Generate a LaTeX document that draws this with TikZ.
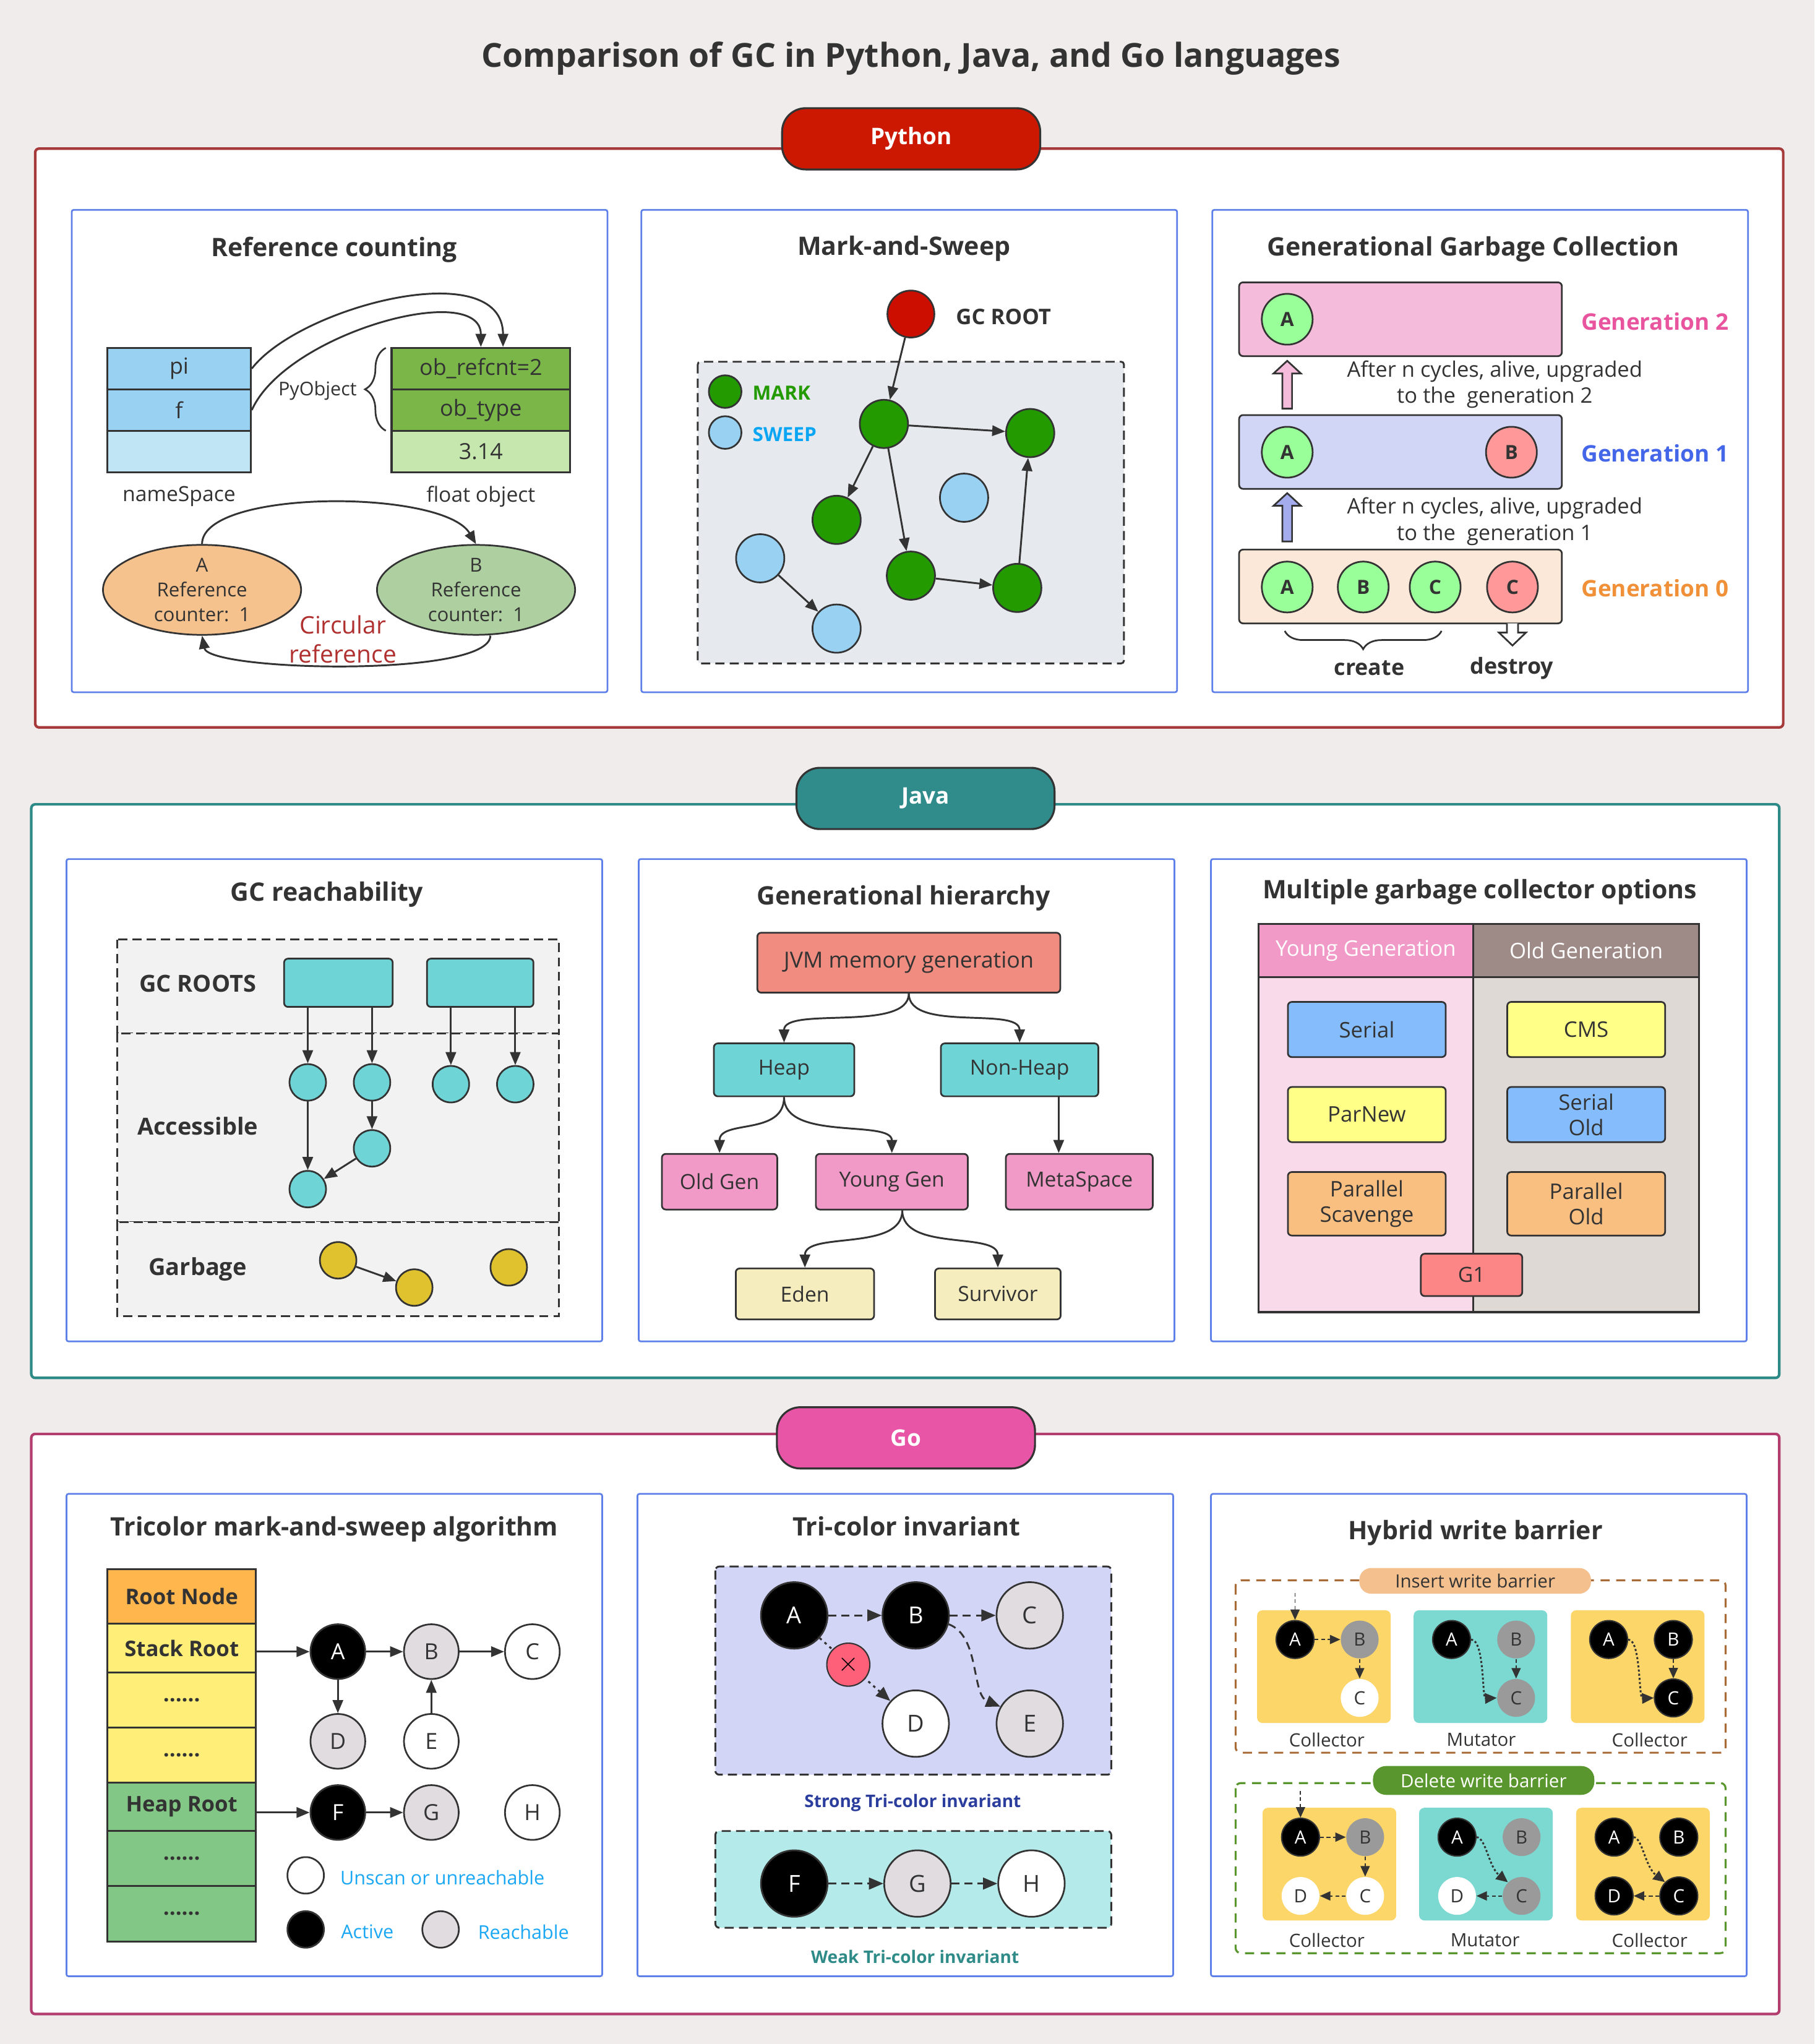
\documentclass[tikz,border=0pt]{standalone}
\usepackage{fontspec}
\setmainfont{Open Sans}
\usetikzlibrary{arrows.meta,positioning,shapes.geometric,decorations.pathreplacing}

\definecolor{pagebg}{HTML}{EFECEB}
\definecolor{ink}{HTML}{333333}
\definecolor{panelblue}{HTML}{5F80E8}
\definecolor{pyred}{HTML}{A63A3A}
\definecolor{pyban}{HTML}{CC1800}
\definecolor{javteal}{HTML}{2E8A87}
\definecolor{javban}{HTML}{2F8C8B}
\definecolor{gomag}{HTML}{B23D6E}
\definecolor{goban}{HTML}{E955A6}
\definecolor{nsblue}{HTML}{99D1F3}
\definecolor{nslight}{HTML}{C0E5F5}
\definecolor{objgreen}{HTML}{7AB648}
\definecolor{objlight}{HTML}{C6E8AE}
\definecolor{ellorange}{HTML}{F5C18C}
\definecolor{ellgreen}{HTML}{AED0A0}
\definecolor{circred}{HTML}{B03030}
\definecolor{msbg}{HTML}{E6EAEE}
\definecolor{rootred}{HTML}{CC0E00}
\definecolor{markgreen}{HTML}{229A00}
\definecolor{sweepblue}{HTML}{99D1F2}
\definecolor{sweeptxt}{HTML}{0AA6F4}
\definecolor{gentwo}{HTML}{F4BCDA}
\definecolor{genone}{HTML}{D1D5F6}
\definecolor{genzero}{HTML}{FBE8D8}
\definecolor{ballgreen}{HTML}{99FF99}
\definecolor{ballred}{HTML}{FF9999}
\definecolor{gentwotxt}{HTML}{E8559E}
\definecolor{genonetxt}{HTML}{4466E8}
\definecolor{genzerotxt}{HTML}{F0913A}
\definecolor{uparrowblue}{HTML}{A4ACEE}
\definecolor{reachbg}{HTML}{F2F2F2}
\definecolor{cyanfill}{HTML}{6FD4D6}
\definecolor{garbyellow}{HTML}{DFC22E}
\definecolor{jvmred}{HTML}{F08C80}
\definecolor{pinkbox}{HTML}{F19AC7}
\definecolor{paleyellow}{HTML}{F5EDBE}
\definecolor{oldhead}{HTML}{9E8B87}
\definecolor{youngbody}{HTML}{F9DAEA}
\definecolor{oldbody}{HTML}{DFD9D6}
\definecolor{boxblue}{HTML}{85BCFB}
\definecolor{boxyellow}{HTML}{FFFF88}
\definecolor{boxorange}{HTML}{F9BF81}
\definecolor{gonered}{HTML}{FC8585}
\definecolor{rootorange}{HTML}{FFB74D}
\definecolor{stackyellow}{HTML}{FFEF78}
\definecolor{heapgreen}{HTML}{82C785}
\definecolor{greyball}{HTML}{E0DCDF}
\definecolor{legendblue}{HTML}{1AA7F3}
\definecolor{strongbg}{HTML}{D3D5F7}
\definecolor{weakbg}{HTML}{B5EAEA}
\definecolor{xred}{HTML}{FF6079}
\definecolor{strongtxt}{HTML}{2B3E9E}
\definecolor{weaktxt}{HTML}{2E8B87}
\definecolor{insbrown}{HTML}{A86B36}
\definecolor{inspill}{HTML}{F4C08E}
\definecolor{delgreen}{HTML}{5A962E}
\definecolor{hwyellow}{HTML}{FCD669}
\definecolor{hwteal}{HTML}{7BD9D1}
\definecolor{greyfill}{HTML}{9A9A9A}

\newcommand{\rowdots}{......}

\tikzset{every picture/.style={line width=0.75pt}}
\tikzset{
  secframe/.style={line width=2pt, fill=white, rounded corners=3pt},
  banner/.style={draw=ink, line width=1.5pt, rounded corners=18pt, minimum width=198pt, minimum height=47pt, inner sep=0pt, text=white, font=\bfseries\fontsize{17.5}{20}\selectfont},
  panel/.style={draw=panelblue, line width=1.3pt, fill=white, rounded corners=1.5pt},
  ptitle/.style={text=ink, inner sep=0pt, font=\bfseries\fontsize{19.5}{22}\selectfont},
  txt/.style={text=ink, inner sep=0pt, align=center, font=\fontsize{16}{19}\selectfont},
  btxt/.style={text=ink, inner sep=0pt, align=center, font=\bfseries\fontsize{17.5}{20}\selectfont},
  small/.style={text=ink, inner sep=0pt, align=center, font=\fontsize{14}{17}\selectfont},
  ball/.style={circle, draw=ink, line width=1.3pt, inner sep=0pt, minimum size=#1},
  cell/.style={rectangle, draw=ink, line width=1.5pt, minimum width=#1, minimum height=31.8pt, txt, font=\fontsize{17}{19}\selectfont},
  roundbox/.style={rectangle, draw=ink, line width=1.3pt, rounded corners=3pt, txt},
  dashbox/.style={draw=ink, line width=1.4pt, dash pattern=on 7pt off 4pt},
  arr/.style={draw=ink, line width=1.4pt, -{Triangle[length=10pt,width=8pt]}},
  dasharr/.style={draw=ink, line width=1.4pt, dash pattern=on 6pt off 4pt, -{Triangle[length=11pt,width=9pt]}},
  dotarr/.style={draw=ink, line width=1.5pt, dash pattern=on 2pt off 3pt, -{Triangle[length=11pt,width=9pt]}},
  hwdash/.style={draw=ink, line width=0.9pt, dash pattern=on 3pt off 2pt, -{Triangle[length=8pt,width=7pt]}},
  hwdot/.style={draw=ink, line width=1.4pt, dash pattern=on 1.6pt off 1.6pt, -{Triangle[length=9pt,width=8pt]}},
  hwnode/.style={circle, inner sep=0pt, minimum size=29pt, font=\fontsize{14}{16}\selectfont},
  hwblack/.style={hwnode, fill=black, draw=ink, line width=1pt, text=white},
  hwgrey/.style={hwnode, fill=greyfill, text=ink},
  hwwhite/.style={hwnode, fill=white, text=ink},
  tri/.style={ball=42pt, text=ink, font=\fontsize{17}{20}\selectfont},
  inv/.style={ball=51pt, text=ink, font=\fontsize{18}{20}\selectfont},
}

\begin{document}
\begin{tikzpicture}[x=1pt,y=1pt,yscale=-1]
	\useasboundingbox (0,0) rectangle (1392,1568);
	\fill[pagebg] (0,0) rectangle (1392,1568);
	
	% Text Node
	\node[text=ink, inner sep=0pt, font=\bfseries\fontsize{25.4}{30}\selectfont] (maintitle) at (699,45) {Comparison of GC in Python, Java, and Go languages};
	
	%Shape: Section frames and banners
	\draw[secframe, draw=pyred] (27,114) rectangle (1368,558);
	\node[banner, fill=pyban] (python) at (699,106.5) {Python};
	\draw[secframe, draw=javteal] (24,617) rectangle (1365,1057);
	\node[banner, fill=javban] (java) at (710,612.5) {Java};
	\draw[secframe, draw=gomag] (24,1100) rectangle (1365,1545);
	\node[banner, fill=goban] (golang) at (695,1103) {Go};
	
	%Shape: Panels
	\foreach \x/\y in {55/161, 492/161, 930/161, 51/659, 490/659, 929/659, 51/1146, 489/1146, 929/1146}
		\draw[panel] (\x,\y) rectangle ++(411,370);
	
	%%%%% Python: reference counting
	\node[ptitle] (rctitle) at (256.4,191.5) {Reference counting};
	\node[cell=110pt, fill=nsblue] (pi) at (137.4,282.8) {pi};
	\node[cell=110pt, fill=nsblue] (fvar) at (137.4,314.6) {f};
	\node[cell=110pt, fill=nslight] (nsempty) at (137.4,346.4) {};
	\node[txt] (nslabel) at (137.4,381) {nameSpace};
	\node[cell=137pt, fill=objgreen] (refcnt) at (368.9,282.8) {ob\_refcnt=2};
	\node[cell=137pt, fill=objgreen] (obtype) at (368.9,314.6) {ob\_type};
	\node[cell=137pt, fill=objlight] (fval) at (368.9,346.4) {3.14};
	\node[txt] (floatlabel) at (368.9,381) {float object};
	%Brace
	\draw[ink, line width=1.3pt, decorate, decoration={brace, amplitude=16pt}] (296,330.4) -- (296,266.9);
	\node[small, anchor=east, font=\fontsize{14.5}{17}\selectfont] (pyobj) at (274,299.5) {PyObject};
	%Curve Lines
	\draw[arr] (pi.east) .. controls (230,235) and (385.9,195) .. ([xshift=17pt]refcnt.north);
	\draw[arr] (fvar.east) .. controls (220,255) and (368.9,215) .. (refcnt.north);
	\node[ellipse, draw=ink, line width=1.3pt, fill=ellorange, minimum width=152pt, minimum height=66pt, txt, font=\fontsize{14.8}{19}\selectfont] (objA) at (155,452.5) {A\\Reference\\counter:\ \ 1};
	\node[ellipse, draw=ink, line width=1.3pt, fill=ellgreen, minimum width=152pt, minimum height=66pt, txt, font=\fontsize{14.8}{19}\selectfont] (objB) at (365.2,452.5) {B\\Reference\\counter:\ \ 1};
	\draw[arr] (objA.north) .. controls (155,375) and (340,375) .. (objB.north);
	\draw[arr] ([xshift=11pt]objB.south) .. controls (376,520) and (160,515) .. (objA.south);
	\node[text=circred, inner sep=0pt, align=center, font=\fontsize{18.5}{22.4}\selectfont] (circref) at (263,490.5) {Circular\\reference};
	
	%%%%% Python: mark and sweep
	\node[ptitle] (mstitle) at (693.5,190.5) {Mark-and-Sweep};
	\draw[dashbox, fill=msbg, rounded corners=2pt] (535.3,277.5) rectangle (862.2,508.9);
	\node[ball=36pt, fill=rootred] (gcroot) at (698.8,240.9) {};
	\node[text=ink, inner sep=0pt, anchor=west, font=\bfseries\fontsize{16.5}{20}\selectfont] (gcrootlbl) at (733,243) {GC ROOT};
	\node[ball=25pt, fill=markgreen] (markkey) at (556.3,300.4) {};
	\node[text=markgreen, inner sep=0pt, anchor=west, font=\bfseries\fontsize{15}{18}\selectfont] (marklbl) at (577,301.5) {MARK};
	\node[ball=25pt, fill=sweepblue] (sweepkey) at (556.3,331.8) {};
	\node[text=sweeptxt, inner sep=0pt, anchor=west, font=\bfseries\fontsize{15}{18}\selectfont] (sweeplbl) at (577,333.2) {SWEEP};
	\foreach \n/\x/\y in {m1/678.1/325.2, m2/790.3/332.2, m3/641.8/398.8, m4/698.8/441.6, m5/780.4/451}
		\node[ball=37pt, fill=markgreen] (\n) at (\x,\y) {};
	\foreach \n/\x/\y in {s1/739.6/381.8, s2/583.2/428.3, s3/641.8/482.2}
		\node[ball=37pt, fill=sweepblue] (\n) at (\x,\y) {};
	\foreach \a/\b in {gcroot/m1, m1/m2, m1/m3, m1/m4, m4/m5, m5/m2, s2/s3}
		\draw[arr] (\a) -- (\b);
	
	%%%%% Python: generational
	\node[ptitle] (ggtitle) at (1130.2,191) {Generational Garbage Collection};
	\node[roundbox, fill=gentwo, minimum width=247.6pt, minimum height=56.6pt] (gen2) at (1074.4,244.9) {};
	\node[roundbox, fill=genone, minimum width=247.6pt, minimum height=56.6pt] (gen1) at (1074.4,346.7) {};
	\node[roundbox, fill=genzero, minimum width=247.6pt, minimum height=56.6pt] (gen0) at (1074.4,449.9) {};
	\foreach \n/\x/\y/\c/\t in {gA2/987.5/244.9/ballgreen/A, gA1/987.5/346.9/ballgreen/A, gB1/1159.5/346.9/ballred/B, gA0/987.5/450.3/ballgreen/A, gB0/1045.8/450.3/ballgreen/B, gC0/1101/450.3/ballgreen/C, gX0/1160.3/450.3/ballred/C}
		\node[ball=39pt, fill=\c, text=ink, font=\bfseries\fontsize{15}{18}\selectfont] (\n) at (\x,\y) {\t};
	\node[text=gentwotxt, inner sep=0pt, font=\bfseries\fontsize{17.5}{20}\selectfont] (gen2lbl) at (1269.6,246.4) {Generation 2};
	\node[text=genonetxt, inner sep=0pt, font=\bfseries\fontsize{17.5}{20}\selectfont] (gen1lbl) at (1269.6,347.9) {Generation 1};
	\node[text=genzerotxt, inner sep=0pt, font=\bfseries\fontsize{17.5}{20}\selectfont] (gen0lbl) at (1269.6,451.3) {Generation 0};
	%Shape: block arrows
	\draw[ink, line width=1.3pt, fill=gentwo] (983.8,313.4) -- (983.8,286.5) -- (977,286.5) -- (987.5,276.8) -- (998,286.5) -- (991.2,286.5) -- (991.2,313.4) -- cycle;
	\draw[ink, line width=1.3pt, fill=uparrowblue] (983.8,415.4) -- (983.8,388) -- (977,388) -- (987.5,378.3) -- (998,388) -- (991.2,388) -- (991.2,415.4) -- cycle;
	\draw[ink, line width=1.3pt, fill=white] (1156,478.2) -- (1156,485.3) -- (1150,485.3) -- (1160.3,495.2) -- (1170.6,485.3) -- (1164.6,485.3) -- (1164.6,478.2);
	\node[txt, font=\fontsize{16.4}{20}\selectfont] (up2txt) at (1146.7,295) {After n cycles, alive, upgraded\\to the\ \ generation 2};
	\node[txt, font=\fontsize{16.4}{20}\selectfont] (up1txt) at (1146.7,400) {After n cycles, alive, upgraded\\to the\ \ generation 1};
	\draw[ink, line width=1.3pt, decorate, decoration={brace, mirror, amplitude=14pt}] (985.6,484) -- (1105.9,484);
	\node[text=ink, inner sep=0pt, font=\bfseries\fontsize{17}{20}\selectfont] (createlbl) at (1050.5,512.5) {create};
	\node[text=ink, inner sep=0pt, font=\bfseries\fontsize{17}{20}\selectfont] (destroylbl) at (1159.8,512.5) {destroy};
	
	%%%%% Java: reachability
	\node[ptitle] (reachtitle) at (250.8,686) {GC reachability};
	\draw[dashbox, fill=reachbg] (90,720.7) rectangle (428.9,792.6);
	\draw[dashbox, fill=reachbg] (90,792.6) rectangle (428.9,937.3);
	\draw[dashbox, fill=reachbg] (90,937.3) rectangle (428.9,1009.7);
	\node[btxt, font=\bfseries\fontsize{18}{20}\selectfont] (rootslbl) at (151.7,754.5) {GC ROOTS};
	\node[btxt, font=\bfseries\fontsize{18}{20}\selectfont] (acclbl) at (151.7,863.8) {Accessible};
	\node[btxt, font=\bfseries\fontsize{18}{20}\selectfont] (garblbl) at (151.7,973.8) {Garbage};
	\node[roundbox, fill=cyanfill, minimum width=83.3pt, minimum height=37pt] (rootA) at (259.6,753.9) {};
	\node[roundbox, fill=cyanfill, minimum width=81.7pt, minimum height=37pt] (rootB) at (368.4,753.9) {};
	\foreach \n/\x/\y in {acc1/236.1/830.3, acc2/285.4/830.3, acc3/345.9/831.7, acc4/395.3/831.7, acc5/285.4/880.9, acc6/236.1/912.2}
		\node[ball=28pt, fill=cyanfill] (\n) at (\x,\y) {};
	\foreach \n/\x/\y in {gb1/259.4/966.8, gb2/317.8/987.7, gb3/390.3/972.2}
		\node[ball=28pt, fill=garbyellow] (\n) at (\x,\y) {};
	\draw[arr] (rootA.south -| acc1) -- (acc1);
	\draw[arr] (rootA.south -| acc2) -- (acc2);
	\draw[arr] (rootB.south -| acc3) -- (acc3);
	\draw[arr] (rootB.south -| acc4) -- (acc4);
	\foreach \a/\b in {acc1/acc6, acc2/acc5, acc5/acc6, gb1/gb2}
		\draw[arr] (\a) -- (\b);
	
	%%%%% Java: generational hierarchy
	\node[ptitle] (hiertitle) at (693.4,689) {Generational hierarchy};
	\node[roundbox, fill=jvmred, minimum width=232.4pt, minimum height=46pt, font=\fontsize{17}{19}\selectfont] (jvm) at (697.2,738.5) {JVM memory generation};
	\node[roundbox, fill=cyanfill, minimum width=107.7pt, minimum height=40.6pt] (heap) at (601.5,820.7) {Heap};
	\node[roundbox, fill=cyanfill, minimum width=120.8pt, minimum height=40.6pt] (nonheap) at (782.2,820.7) {Non-Heap};
	\node[roundbox, fill=pinkbox, minimum width=88.5pt, minimum height=42.7pt] (oldgen) at (552,906.5) {Old Gen};
	\node[roundbox, fill=pinkbox, minimum width=116.6pt, minimum height=42.7pt] (younggen) at (684.2,906.5) {Young Gen};
	\node[roundbox, fill=pinkbox, minimum width=112.7pt, minimum height=42.7pt] (meta) at (828,906.5) {MetaSpace};
	\node[roundbox, fill=paleyellow, minimum width=106.1pt, minimum height=39.1pt] (eden) at (617.5,992.6) {Eden};
	\node[roundbox, fill=paleyellow, minimum width=96.4pt, minimum height=39.1pt] (survivor) at (765.5,992.6) {Survivor};
	\draw[arr] (jvm.south) .. controls +(0,30) and +(0,-28) .. (heap.north);
	\draw[arr] (jvm.south) .. controls +(0,30) and +(0,-28) .. (nonheap.north);
	\draw[arr] (heap.south) .. controls +(0,30) and +(0,-26) .. (oldgen.north);
	\draw[arr] (heap.south) .. controls +(0,34) and +(0,-26) .. (younggen.north);
	\draw[arr] ([xshift=30pt]nonheap.south) -- ([xshift=30pt]nonheap.south |- meta.north);
	\draw[arr] ([xshift=8pt]younggen.south) .. controls +(0,32) and +(0,-28) .. (eden.north);
	\draw[arr] ([xshift=8pt]younggen.south) .. controls +(0,32) and +(0,-28) .. (survivor.north);
	
	%%%%% Java: collectors
	\node[ptitle] (gcopttitle) at (1135.3,684.2) {Multiple garbage collector options};
	\draw[ink, line width=1.5pt, fill=youngbody] (965.5,749.6) rectangle (1130.1,1006.6);
	\draw[ink, line width=1.5pt, fill=oldbody] (1130.1,749.6) rectangle (1303.6,1006.6);
	\node[rectangle, draw=ink, line width=1.5pt, fill=pinkbox, minimum width=164.6pt, minimum height=40.8pt, inner sep=0pt, text=white, font=\fontsize{16.5}{19}\selectfont] (younghdr) at (1047.8,729.2) {Young Generation};
	\node[rectangle, draw=ink, line width=1.5pt, fill=oldhead, minimum width=173.5pt, minimum height=40.8pt, inner sep=0pt, text=white, font=\fontsize{16.5}{19}\selectfont] (oldhdr) at (1216.85,729.2) {Old Generation};
	\foreach \n/\x/\y/\h/\c/\t in {serial/1048.55/789.75/42.3/boxblue/Serial, parnew/1048.55/855/42.3/boxyellow/ParNew, pscav/1048.55/923.45/48.7/boxorange/Parallel\\Scavenge, cms/1216.85/789.75/42.3/boxyellow/CMS, serold/1216.85/855/42.3/boxblue/Serial\\Old, parold/1216.85/923.45/48.7/boxorange/Parallel\\Old}
		\node[roundbox, fill=\c, minimum width=121.1pt, minimum height=\h pt, font=\fontsize{16.5}{19.5}\selectfont] (\n) at (\x,\y) {\t};
	\node[roundbox, fill=gonered, minimum width=77.8pt, minimum height=32.5pt] (gone) at (1128.9,978) {G1};
	
	%%%%% Go: tricolor
	\node[ptitle] (tricoltitle) at (256.5,1173) {Tricolor mark-and-sweep algorithm};
	\foreach \n/\y/\h/\c/\t in {rootnode/1224.6/42/rootorange/Root Node, stackroot/1264.35/37.5/stackyellow/Stack Root, sdots1/1304.1/42/stackyellow/\rowdots, sdots2/1346.2/42.2/stackyellow/\rowdots, heaproot/1385.95/37.3/heapgreen/Heap Root, hdots1/1425.7/42.2/heapgreen/\rowdots, hdots2/1468.1/42.6/heapgreen/\rowdots}
		\node[rectangle, draw=ink, line width=1.5pt, fill=\c, minimum width=114pt, minimum height=\h pt, inner sep=0pt, text=ink, font=\bfseries\fontsize{16.5}{19}\selectfont] (\n) at (139.4,\y) {\t};
	\node[tri, fill=black, text=white] (tA) at (259.2,1267) {A};
	\node[tri, fill=greyball] (tB) at (330.9,1267) {B};
	\node[tri, fill=white] (tC) at (408.4,1267) {C};
	\node[tri, fill=greyball] (tD) at (259.2,1335.8) {D};
	\node[tri, fill=white] (tE) at (330.9,1335.8) {E};
	\node[tri, fill=black, text=white] (tF) at (259.2,1390.4) {F};
	\node[tri, fill=greyball] (tG) at (330.9,1390.4) {G};
	\node[tri, fill=white] (tH) at (408.4,1390.4) {H};
	\draw[arr] (stackroot.east |- tA) -- (tA);
	\draw[arr] (heaproot.east |- tF) -- (tF);
	\foreach \a/\b in {tA/tB, tB/tC, tA/tD, tE/tB, tF/tG}
		\draw[arr] (\a) -- (\b);
	\node[ball=28pt, fill=white] (keywhite) at (234.5,1438.6) {};
	\node[ball=28pt, fill=black] (keyblack) at (234.5,1480.1) {};
	\node[ball=28pt, fill=greyball] (keygrey) at (338,1480.1) {};
	\node[text=legendblue, inner sep=0pt, anchor=west, font=\fontsize{14.5}{17}\selectfont] (unscanlbl) at (260.7,1440.5) {Unscan or unreachable};
	\node[text=legendblue, inner sep=0pt, anchor=west, font=\fontsize{14.5}{17}\selectfont] (activelbl) at (261.3,1482) {Active};
	\node[text=legendblue, inner sep=0pt, anchor=west, font=\fontsize{14.5}{17}\selectfont] (reachlbl) at (366.4,1482) {Reachable};
	
	%%%%% Go: tri-color invariant
	\node[ptitle] (invtitle) at (695.4,1171) {Tri-color invariant};
	\draw[dashbox, fill=strongbg, rounded corners=3pt] (548.8,1201.7) rectangle (852.5,1361.4);
	\draw[dashbox, fill=weakbg, rounded corners=3pt] (548.8,1404.6) rectangle (852.5,1478.8);
	\node[inv, fill=black, text=white] (iA) at (609.3,1239.2) {A};
	\node[inv, fill=black, text=white] (iB) at (702.5,1239.2) {B};
	\node[inv, fill=greyball] (iC) at (790,1239.2) {C};
	\node[inv, fill=white] (iD) at (702.5,1322.2) {D};
	\node[inv, fill=greyball] (iE) at (790,1322.2) {E};
	\draw[dasharr] (iA) -- (iB);
	\draw[dasharr] (iB) -- (iC);
	\draw[dasharr] (iB.-15) .. controls (752,1255) and (745,1300) .. (iE.150);
	\draw[dotarr] (iA) -- (iD);
	\node[ball=33pt, fill=xred, line width=1pt, font=\fontsize{20}{20}\selectfont] (xmark) at (650.8,1277) {$\times$};
	\node[text=strongtxt, inner sep=0pt, font=\bfseries\fontsize{13.3}{15}\selectfont] (stronglbl) at (700.2,1383.2) {Strong Tri-color invariant};
	\node[inv, fill=black, text=white] (iF) at (609.3,1444.9) {F};
	\node[inv, fill=greyball] (iG) at (703.8,1444.9) {G};
	\node[inv, fill=white] (iH) at (791.3,1444.9) {H};
	\draw[dasharr] (iF) -- (iG);
	\draw[dasharr] (iG) -- (iH);
	\node[text=weaktxt, inner sep=0pt, font=\bfseries\fontsize{13.3}{15}\selectfont] (weaklbl) at (702,1501.2) {Weak Tri-color invariant};
	
	%%%%% Go: hybrid write barrier
	\node[ptitle] (hybtitle) at (1131.9,1176) {Hybrid write barrier};
	\draw[draw=insbrown, line width=1.5pt, dash pattern=on 7pt off 5pt, rounded corners=4pt] (947.9,1212.3) rectangle (1323.8,1344.5);
	\draw[draw=delgreen, line width=1.5pt, dash pattern=on 7pt off 5pt, rounded corners=4pt] (947.9,1367.8) rectangle (1323.8,1498.3);
	\node[rectangle, rounded corners=9pt, fill=inspill, minimum width=177.7pt, minimum height=19.7pt, small] (inslbl) at (1131.7,1212.7) {Insert write barrier};
	\node[rectangle, rounded corners=10pt, fill=delgreen, minimum width=169.8pt, minimum height=22.1pt, small, text=white] (dellbl) at (1138.2,1365.8) {Delete write barrier};
	%Shape: sub panels
	\foreach \x/\y/\c in {964.4/1235.3/hwyellow, 1084.5/1235.3/hwteal, 1205.1/1235.3/hwyellow, 968.6/1386.8/hwyellow, 1088.7/1386.8/hwteal, 1209.2/1386.8/hwyellow}
		\fill[\c, rounded corners=4pt] (\x,\y) rectangle ++(102.5,86.4);
	\foreach \n/\x/\y/\t in {cl1/1017.9/1334.5/Collector, mu1/1136.4/1334.5/Mutator, cl2/1265.6/1334.5/Collector, cl3/1017.9/1488.3/Collector, mu2/1139.3/1488.3/Mutator, cl4/1265.6/1488.3/Collector}
		\node[small] (\n) at (\x,\y) {\t};
	% insert row
	\node[hwblack] (a1) at (993.5,1257.7) {A};
	\node[hwgrey] (b1) at (1043.1,1257.7) {B};
	\node[hwwhite] (c1) at (1043.1,1302.5) {C};
	\node[hwblack] (a2) at (1113.6,1257.7) {A};
	\node[hwgrey] (b2) at (1163.1,1257.7) {B};
	\node[hwgrey] (c2) at (1163.1,1302.5) {C};
	\node[hwblack] (a3) at (1234.1,1257.7) {A};
	\node[hwblack] (b3) at (1283.7,1257.7) {B};
	\node[hwblack] (c3) at (1283.7,1302.5) {C};
	\coordinate (in1) at (993.5,1221.8);
	\draw[hwdash] (in1) -- (a1);
	\foreach \a/\b in {a1/b1, b1/c1, b2/c2, b3/c3}
		\draw[hwdash] (\a) -- (\b);
	\draw[hwdot] (a2.east) .. controls (1139,1258) and (1137,1303) .. (c2.west);
	\draw[hwdot] (a3.east) .. controls (1259,1258) and (1257,1303) .. (c3.west);
	% delete row
	\node[hwblack] (a4) at (997.7,1409.3) {A};
	\node[hwgrey] (b4) at (1047.3,1409.3) {B};
	\node[hwwhite] (d4) at (997.7,1454.4) {D};
	\node[hwwhite] (c4) at (1047.3,1454.4) {C};
	\node[hwblack] (a5) at (1117.8,1409.3) {A};
	\node[hwgrey] (b5) at (1167.3,1409.3) {B};
	\node[hwwhite] (d5) at (1117.8,1454.4) {D};
	\node[hwgrey] (c5) at (1167.3,1454.4) {C};
	\node[hwblack] (a6) at (1238.3,1409.3) {A};
	\node[hwblack] (b6) at (1287.9,1409.3) {B};
	\node[hwblack] (d6) at (1238.3,1454.4) {D};
	\node[hwblack] (c6) at (1287.9,1454.4) {C};
	\coordinate (in4) at (997.7,1373.7);
	\draw[hwdash] (in4) -- (a4);
	\foreach \a/\b in {a4/b4, b4/c4, c4/d4, c5/d5, c6/d6}
		\draw[hwdash] (\a) -- (\b);
	\draw[hwdot] (a5.east) .. controls (1140,1410) and (1142,1432) .. (c5.135);
	\draw[hwdot] (a6.east) .. controls (1260,1410) and (1262,1432) .. (c6.135);
	
\end{tikzpicture}
\end{document}
